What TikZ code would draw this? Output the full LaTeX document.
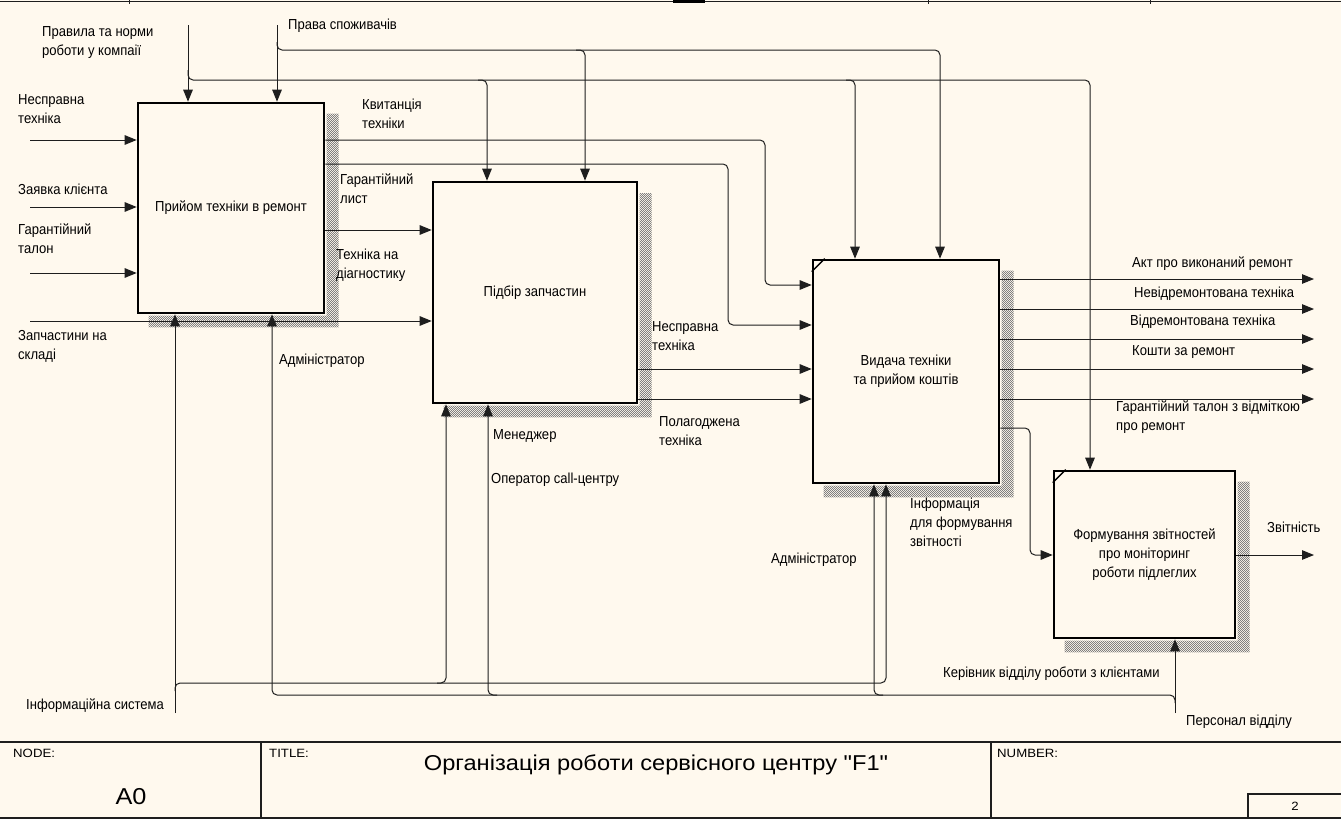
\documentclass[tikz,border=0pt]{standalone}
\usepackage{fontspec}
\setmainfont{Liberation Sans}[FakeStretch=0.9]
\newfontfamily\blockfont{Liberation Sans}[FakeStretch=1.1]
\usetikzlibrary{arrows.meta,calc,patterns}
\definecolor{paper}{HTML}{FFF9EE}
\definecolor{wire}{HTML}{1E1E1E}
\definecolor{hatch}{HTML}{808080}
\pgfdeclarepatternformonly{idefhatch}{\pgfpointorigin}{\pgfpoint{2.4pt}{2.4pt}}{\pgfpoint{2.4pt}{2.4pt}}{
  \pgfpathrectangle{\pgfpointorigin}{\pgfpoint{1.2pt}{1.2pt}}
  \pgfpathrectangle{\pgfpoint{1.2pt}{1.2pt}}{\pgfpoint{1.2pt}{1.2pt}}
  \pgfusepath{fill}}

\begin{document}
\begin{tikzpicture}[x=1pt,y=-1pt,
    every node/.style={font=\fontsize{14.5}{19}\selectfont},
    fbox/.style={draw=black,line width=2.6pt,fill=paper,align=center,inner sep=0pt},
    arr/.style={draw=wire,line width=1pt,-{Triangle[length=12pt,width=9.5pt]}},
    bus/.style={arr,rounded corners=5pt},
    shadow/.style={pattern=idefhatch,pattern color=hatch},
    lbl/.style={align=left,inner sep=0pt,anchor=north west,yshift=13.3pt,execute at begin node=\strut},
    blk/.style={inner sep=0pt,anchor=base west,font=\blockfont\fontsize{12}{14}\selectfont}]
    \fill[paper] (0,0) rectangle (1341,819);
    \useasboundingbox (0,0) rectangle (1341,819);

    % edge of the page above
    \draw[wire,line width=1.2pt] (0,1.5) -- (1341,1.5);
    \foreach \x in {129,928,1150} \draw[wire] (\x,0) -- (\x,4);
    \fill[black] (673,0) rectangle (705,3);

    % activity boxes
    \node[fbox,minimum width=186pt,minimum height=210pt] (b1) at (231,208) {Прийом техніки в ремонт};
    \node[fbox,minimum width=204pt,minimum height=221pt] (b2) at (535,292.5) {Підбір запчастин};
    \node[fbox,minimum width=186pt,minimum height=223pt] (b3) at (906,371.5) {Видача техніки\\та прийом коштів};
    \node[fbox,minimum width=181pt,minimum height=167pt] (b4) at (1144.5,554.5) {Формування звітностей\\про моніторинг\\роботи підлеглих};
    \foreach \b in {b1,b2,b3,b4}
      \fill[shadow] ($(\b.north east)+(1.3,12)$) -- ++(12,0) |- ($(\b.south west)+(12,13)$) -- ++(0,-11.7) -- ($(\b.south east)+(1.3,1.3)$) -- cycle;
    \foreach \b in {b3,b4}
      \draw[line width=1.5pt] ($(\b.north west)+(0,13)$) -- ($(\b.north west)+(13,0)$);

    \coordinate (lft) at (30,0);
    \coordinate (rgt) at (1314,0);
    \coordinate (rul) at (188,25);
    \coordinate (prv) at (277,25);
    \coordinate (inf) at (175,713);
    \coordinate (pers) at (1175,713);

    % inputs
    \foreach \y in {140,207,273} \draw[arr] (lft |- 0,\y) -- (b1.west |- 0,\y);
    \draw[arr] (lft |- 0,321) -- (b2.west |- 0,321);
    \draw[bus] (b1.east |- 0,140) -| (765,285) -- (b3.west |- 0,285);
    \draw[bus] (b1.east |- 0,164) -| (728,325) -- (b3.west |- 0,325);
    \draw[arr] (b1.east |- 0,230) -- (b2.west |- 0,230);
    \draw[arr] (b2.east |- 0,369) -- (b3.west |- 0,369);
    \draw[arr] (b2.east |- 0,399) -- (b3.west |- 0,399);

    % outputs
    \foreach \y in {279,309,339,369,399} \draw[arr] (b3.east |- 0,\y) -- (rgt |- 0,\y);
    \draw[bus] (b3.east |- 0,428) -| (1030,555) -- (b4.west |- 0,555);
    \draw[arr] (b4.east |- 0,555) -- (rgt |- 0,555);

    % controls
    \draw[arr] (rul) -- (rul |- b1.north);
    \draw[arr] (prv) -- (prv |- b1.north);
    \draw[bus] (rul |- 0,70) |- (1090,80) -- (1090,0 |- b4.north);
    \draw[bus] (478,80) -| (487,0 |- b2.north);
    \draw[bus] (846,80) -| (855,0 |- b3.north);
    \draw[bus] (prv |- 0,42) |- (940,50) -- (940,0 |- b3.north);
    \draw[bus] (576,50) -| (585,0 |- b2.north);

    % mechanisms
    \draw[arr] (inf) -- (inf |- b1.south);
    \draw[arr] (pers) -- (pers |- b4.south);
    \draw[bus] (inf |- 0,691) |- (886,683) -- (886,0 |- b3.south);
    \draw[bus] (437,683) -| (446,0 |- b2.south);
    \draw[bus] (pers |- 0,703) |- (272,695) -- (272,0 |- b1.south);
    \draw[bus] (883,695) -| (874,0 |- b3.south);
    \draw[bus] (497,695) -| (488,0 |- b2.south);

    % arrow labels
    \foreach \x/\y/\txt/\nm in {
      18/108/{Несправна\\техніка}/lFaulty,
      18/194/{Заявка клієнта}/lOrder,
      18/237/{Гарантійний\\талон}/lCoupon,
      18/343/{Запчастини на\\складі}/lStock,
      42/40/{Правила та норми\\роботи у компаії}/lRules,
      288/29/{Права споживачів}/lRights,
      362/112/{Квитанція\\техніки}/lReceipt,
      340/187/{Гарантійний\\лист}/lLetter,
      336/262/{Техніка на\\діагностику}/lDiag,
      279/364/{Адміністратор}/lAdmin,
      26/709/{Інформаційна система}/lInfoSys,
      652/335/{Несправна\\техніка}/lBroken,
      659/430/{Полагоджена\\техніка}/lFixed,
      493/439/{Менеджер}/lManager,
      491/483/{Оператор call-центру}/lOperator,
      771/563/{Адміністратор}/lAdminB,
      1132/267/{Акт про виконаний ремонт}/lAct,
      1134/297/{Невідремонтована техніка}/lUnrepaired,
      1130/325/{Відремонтована техніка}/lRepaired,
      1132/355/{Кошти за ремонт}/lMoney,
      1116/414/{Гарантійний талон з відміткою\\про ремонт}/lMarked,
      910/511/{Інформація\\для формування\\звітності}/lData,
      1267/532/{Звітність}/lReport,
      943/677/{Керівник відділу роботи з клієнтами}/lHead,
      1186/725/{Персонал відділу}/lStaff
    } {
      \node[lbl] (\nm) at (\x,\y) {\txt};
    }

    % title block
    \draw[wire,line width=1.8pt] (0,742) -- (1341,742);
    \draw[wire,line width=1.8pt] (0,818) -- (1341,818);
    \draw[wire,line width=1.3pt] (261,742) -- (261,818);
    \draw[wire,line width=1.3pt] (991,742) -- (991,818);
    \draw[wire,line width=1.3pt] (1248,818) |- (1341,794);
    \node[blk] (nodeTag) at (13,757) {NODE:};
    \node[blk] (titleTag) at (269,757) {TITLE:};
    \node[blk] (numberTag) at (997,757) {NUMBER:};
    \node[inner sep=0pt,anchor=base,font=\blockfont\fontsize{23}{26}\selectfont] (nodeNo) at (131,804) {A0};
    \node[inner sep=0pt,anchor=base,font=\blockfont\fontsize{21.5}{24}\selectfont] (ttl) at (656,770) {Організація роботи сервісного центру "F1"};
    \node[inner sep=0pt,anchor=base,font=\blockfont\fontsize{12}{14}\selectfont] (pageNo) at (1295,810) {2};
  \end{tikzpicture}
\end{document}
